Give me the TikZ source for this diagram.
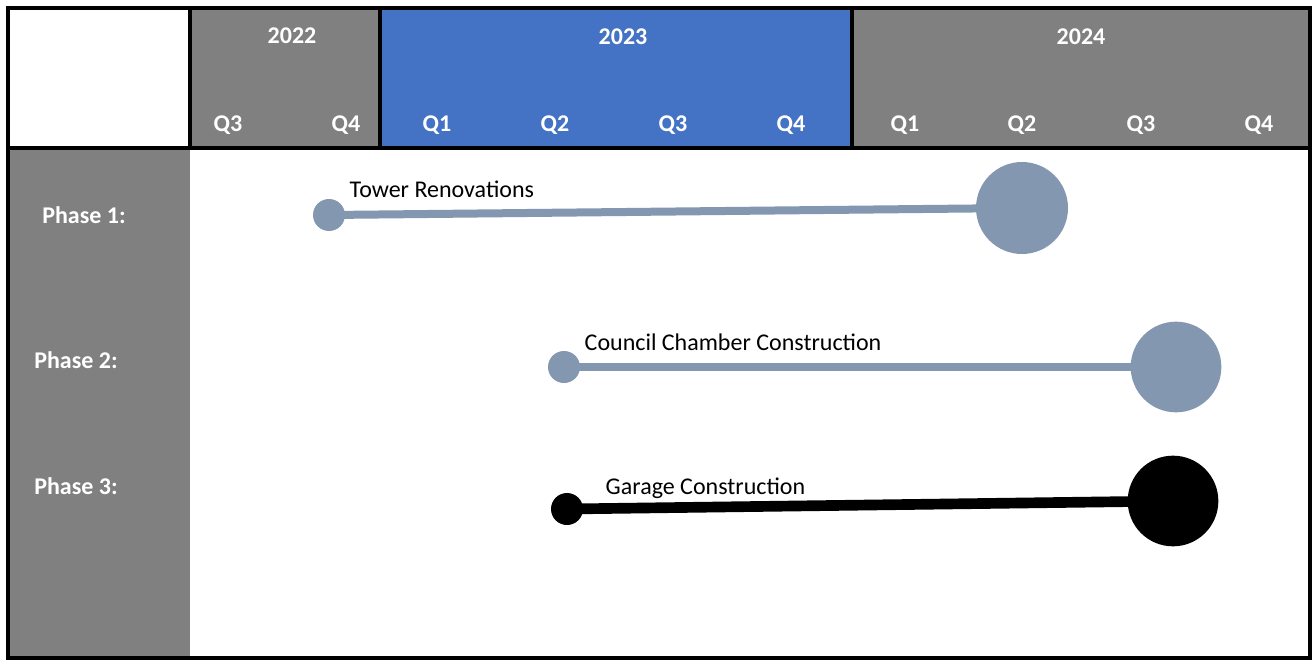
\documentclass[tikz,border=0pt]{standalone}
\usepackage{fontspec}
\setmainfont{Carlito}
\definecolor{hgrey}{HTML}{808080}
\definecolor{hblue}{HTML}{4472C4}
\definecolor{dot}{HTML}{8497B0}
\begin{document}
\begin{tikzpicture}[x=0.75pt,y=-0.75pt,
  hdr/.style={font=\bfseries\fontsize{18}{20}\selectfont,text=white},
  lbl/.style={font=\fontsize{18}{20}\selectfont,anchor=west},
  dotc/.style={circle,fill=#1,inner sep=0pt}]
\useasboundingbox (0,0) rectangle (1316,663);
\fill[white] (0,0) rectangle (1316,663);
\fill[hgrey] (190,8) rectangle (380,148);
\fill[hblue] (380,8) rectangle (852,148);
\fill[hgrey] (852,8) rectangle (1310,148);
\fill[hgrey] (8,148) rectangle (190,658);
\draw[line width=2.5pt] (190,8) rectangle (380,148);
\draw[line width=2.5pt] (852,8) rectangle (1310,148);
\draw[line width=2.5pt] (8,148) -- (1310,148);
\draw[line width=2.5pt] (8,8) rectangle (1310,658);
\node[hdr] (y22) at (292,36) {2022};
\node[hdr] (y23) at (623,37) {2023};
\node[hdr] (y24) at (1081,37) {2024};
\foreach \x/\q [count=\i] in {228/Q3,346/Q4,437/Q1,555/Q2,673/Q3,791/Q4,905/Q1,1022/Q2,1141/Q3,1259/Q4}
  \node[hdr] (q\i) at (\x,125) {\q};
\node[hdr] (p1) at (84,215) {Phase 1:};
\node[hdr] (p2) at (76,360) {Phase 2:};
\node[hdr] (p3) at (76,486) {Phase 3:};
% Phase 1
\node[dotc=dot,minimum size=24pt] (a1) at (329,215) {};
\node[dotc=dot,minimum size=69pt] (b1) at (1022,208) {};
\draw[dot,line width=6pt] (a1.center) -- (b1.center);
\node[lbl] (t1) at (345,189) {Tower Renovations};
% Phase 2
\node[dotc=dot,minimum size=24pt] (a2) at (564,367) {};
\node[dotc=dot,minimum size=68pt] (b2) at (1176,367) {};
\draw[dot,line width=6pt] (a2.center) -- (b2.center);
\node[lbl] (t2) at (580,342) {Council Chamber Construction};
% Phase 3
\node[dotc=black,minimum size=24pt] (a3) at (567,509) {};
\node[dotc=black,minimum size=68pt] (b3) at (1173,501) {};
\draw[black,line width=8pt] (a3.center) -- (b3.center);
\node[lbl] (t3) at (601,488) {Garage Construction};
\end{tikzpicture}
\end{document}
